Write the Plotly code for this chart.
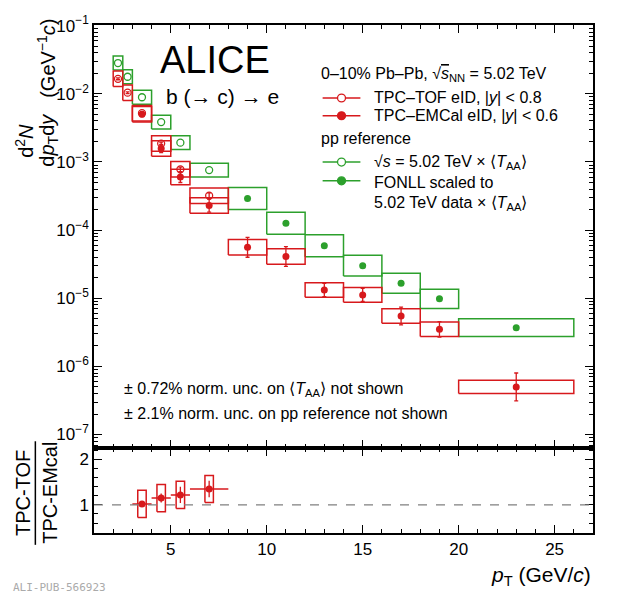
import numpy as np
import plotly.graph_objects as go
from plotly.subplots import make_subplots

RED = "#d7191c"
GREEN = "#2ca02c"

# pp reference, measured (open green)
pp_x_lo = [2.0, 2.5, 3.0, 4.0, 5.0, 6.0]
pp_x_hi = [2.5, 3.0, 4.0, 5.0, 6.0, 8.0]
pp_y = [0.0283, 0.0178, 0.0089, 0.00385, 0.00192, 0.00076]
pp_sys = [0.27, 0.27, 0.27, 0.26, 0.26, 0.26]

# FONLL scaled (filled green)
fonll_x_lo = [8, 10, 12, 14, 16, 18, 20]
fonll_x_hi = [10, 12, 14, 16, 18, 20, 26]
fonll_y = [2.9e-4, 1.26e-4, 5.9e-5, 3.0e-5, 1.66e-5, 9.8e-6, 3.7e-6]
fonll_sys = [0.45, 0.45, 0.45, 0.42, 0.4, 0.38, 0.35]

# TPC-TOF (open red)
tof_x_lo = [2.0, 2.5, 3.0, 4.0, 5.0, 6.0]
tof_x_hi = [2.5, 3.0, 4.0, 5.0, 6.0, 8.0]
tof_y = [0.0166, 0.0104, 0.0052, 0.00186, 7.8e-4, 3.2e-4]
tof_stat = [0.03, 0.03, 0.04, 0.05, 0.08, 0.1]
tof_sys = [0.3, 0.3, 0.3, 0.3, 0.3, 0.3]

# TPC-EMCal (filled red)
emc_x_lo = [3.0, 4.0, 5.0, 6.0, 8, 10, 12, 14, 16, 18, 20]
emc_x_hi = [4.0, 5.0, 6.0, 8.0, 10, 12, 14, 16, 18, 20, 26]
emc_y = [0.0050, 0.00158, 6.0e-4, 2.3e-4, 5.6e-5, 4.1e-5, 1.32e-5, 1.12e-5, 5.5e-6, 3.5e-6, 5.0e-7]
emc_stat = [0.08, 0.15, 0.2, 0.25, 0.4, 0.4, 0.25, 0.25, 0.35, 0.3, 0.6]
emc_sys = [0.3, 0.3, 0.3, 0.3, 0.3, 0.3, 0.28, 0.28, 0.28, 0.28, 0.25]

# ratio panel
ratio_x_lo = [3.0, 4.0, 5.0, 6.0]
ratio_x_hi = [4.0, 5.0, 6.0, 8.0]
ratio_y = [1.02, 1.15, 1.22, 1.35]
ratio_stat = [0.05, 0.1, 0.18, 0.18]
ratio_sys = [0.3, 0.3, 0.3, 0.3]

y_exp = [-1, -2, -3, -4, -5, -6, -7]


def boxes(xlo, xhi, y, rel, log=True, halfw=None):
    xs, ys = [], []
    for a, b, v, r in zip(xlo, xhi, y, rel):
        if halfw is not None:
            c = 0.5 * (a + b)
            a, b = c - halfw, c + halfw
        if log:
            lo, hi = v / (1 + r), v * (1 + r)
        else:
            lo, hi = v - r, v + r
        xs += [a, b, b, a, a, None]
        ys += [lo, lo, hi, hi, lo, None]
    return xs, ys


def mid(lo, hi):
    return [0.5 * (a + b) for a, b in zip(lo, hi)]


fig = make_subplots(rows=2, cols=1, shared_xaxes=True, row_heights=[0.833, 0.167],
                    vertical_spacing=0)

for xlo, xhi, y, sys, col in [(pp_x_lo, pp_x_hi, pp_y, pp_sys, GREEN),
                               (fonll_x_lo, fonll_x_hi, fonll_y, fonll_sys, GREEN),
                               (tof_x_lo, tof_x_hi, tof_y, tof_sys, RED),
                               (emc_x_lo, emc_x_hi, emc_y, emc_sys, RED)]:
    bx, by = boxes(xlo, xhi, y, sys)
    fig.add_trace(go.Scatter(x=bx, y=by, mode="lines", line=dict(color=col, width=1.5),
                             showlegend=False, hoverinfo="skip"), row=1, col=1)

fig.add_trace(go.Scatter(x=mid(pp_x_lo, pp_x_hi), y=pp_y, mode="markers",
                         marker=dict(symbol="circle-open", color=GREEN, size=7, line=dict(width=1.3)),
                         showlegend=False), row=1, col=1)
fig.add_trace(go.Scatter(x=mid(fonll_x_lo, fonll_x_hi), y=fonll_y, mode="markers",
                         marker=dict(symbol="circle", color=GREEN, size=7), showlegend=False), row=1, col=1)
fig.add_trace(go.Scatter(x=mid(tof_x_lo, tof_x_hi), y=tof_y, mode="markers",
                         error_y=dict(type="data", array=[v * s for v, s in zip(tof_y, tof_stat)],
                                      color=RED, thickness=1.3, width=2),
                         marker=dict(symbol="circle-open", color=RED, size=7, line=dict(width=1.3)),
                         showlegend=False), row=1, col=1)
fig.add_trace(go.Scatter(x=mid(emc_x_lo, emc_x_hi), y=emc_y, mode="markers",
                         error_y=dict(type="data", array=[v * s for v, s in zip(emc_y, emc_stat)],
                                      arrayminus=[v * s / (1 + s) for v, s in zip(emc_y, emc_stat)],
                                      color=RED, thickness=1.3, width=2),
                         marker=dict(symbol="circle", color=RED, size=7), showlegend=False), row=1, col=1)

# ratio
bx, by = boxes(ratio_x_lo, ratio_x_hi, ratio_y, ratio_sys, log=False, halfw=0.22)
fig.add_trace(go.Scatter(x=bx, y=by, mode="lines", line=dict(color=RED, width=1.5),
                         showlegend=False, hoverinfo="skip"), row=2, col=1)
rx = mid(ratio_x_lo, ratio_x_hi)
fig.add_trace(go.Scatter(x=rx, y=ratio_y, mode="markers",
                         error_x=dict(type="data", array=[(b - a) / 2 for a, b in zip(ratio_x_lo, ratio_x_hi)],
                                      color=RED, thickness=1.5, width=0),
                         error_y=dict(type="data", array=ratio_stat, color=RED, thickness=1.3, width=0),
                         marker=dict(symbol="circle", color=RED, size=7), showlegend=False), row=2, col=1)
fig.add_hline(y=1, line=dict(color="gray", dash="dash", width=1.2), row=2, col=1)

F = "Liberation Sans, Arial"
ax = dict(showline=True, linecolor="black", linewidth=1.5, mirror="ticks", ticks="inside",
          ticklen=8, tickcolor="black", showgrid=False, zeroline=False,
          tickfont=dict(family=F, size=17, color="black"))
fig.update_xaxes(**ax, range=[1, 27], tickvals=[5, 10, 15, 20, 25],
                 minor=dict(ticks="inside", ticklen=4, dtick=1, tickcolor="black"))
fig.update_xaxes(showticklabels=False, row=1, col=1)
fig.update_yaxes(**ax, type="log", range=[-7.2, -0.99], row=1, col=1,
                 ticklabeloverflow="allow",
                 tickvals=[10.0 ** e for e in y_exp],
                 ticktext=["10<sup>\u2212%d</sup>" % -e for e in y_exp],
                 minor=dict(ticks="inside", ticklen=4, tickcolor="black",
                            tickvals=[m * 10.0 ** e for e in range(-8, -1) for m in range(2, 10)]))
fig.update_yaxes(**ax, range=[0.38, 2.25], tickvals=[1, 2], row=2, col=1,
                 minor=dict(ticks="inside", ticklen=4, dtick=0.2, tickcolor="black"))

ann = []


def txt(x, y, s, size=16, anchor="left", color="black", family=F, angle=0):
    ann.append(dict(x=x, y=y, xref="paper", yref="paper", text=s, showarrow=False,
                    xanchor=anchor, yanchor="middle", textangle=angle,
                    font=dict(family=family, size=size, color=color)))


W, H = 620, 599
# target plot frame in the picture (pixels)
L0, R0, T0, B0 = 92, 594, 18, 533


def px(x):
    return (x - L0) / (R0 - L0)


def py(y):
    return 1 - (y - T0) / (B0 - T0)


txt(px(156), py(53), "ALICE", size=38)
txt(px(162), py(90), "b (\u2192 c) \u2192 e", size=21)
txt(px(318), py(68), "0\u201310% Pb\u2013Pb, \u221a<span style='text-decoration:overline'><i>s</i></span><sub>NN</sub> = 5.02 TeV", size=16)
txt(px(372), py(92), "TPC\u2013TOF eID, |<i>y</i>| < 0.8", size=16)
txt(px(372), py(110), "TPC\u2013EMCal eID, |<i>y</i>| < 0.6", size=16)
txt(px(318), py(133), "pp reference", size=16)
txt(px(372), py(157), "\u221a<i>s</i> = 5.02 TeV \u00d7 \u27e8<i>T</i><sub>AA</sub>\u27e9", size=16)
txt(px(372), py(178), "FONLL scaled to", size=16)
txt(px(372), py(199), "5.02 TeV data \u00d7 \u27e8<i>T</i><sub>AA</sub>\u27e9", size=16)
txt(px(120), py(388), "\u00b1 0.72% norm. unc. on \u27e8<i>T</i><sub>AA</sub>\u27e9 not shown", size=16)
txt(px(120), py(412), "\u00b1 2.1% norm. unc. on pp reference not shown", size=16)
txt(px(594), py(577), "<i>p</i><sub>T</sub> (GeV/<i>c</i>)", size=21, anchor="right")
txt(px(22), py(135), "d<sup>2</sup><i>N</i>", size=20, anchor="center", angle=-90)
txt(px(46), py(135), "d<i>p</i><sub>T</sub>d<i>y</i>", size=20, anchor="center", angle=-90)
txt(px(44), py(52), "(GeV<sup>\u22121</sup><i>c</i>)", size=20, anchor="center", angle=-90)
txt(px(20), py(492), "TPC-TOF", size=20, anchor="center", angle=-90)
txt(px(47), py(492), "TPC-EMcal", size=20, anchor="center", angle=-90)
txt(px(8), py(588), "ALI-PUB-566923", size=11, color="#aaaaaa", family="DejaVu Sans Mono")

shapes = [
    dict(type="line", xref="paper", yref="paper", x0=px(33), x1=px(33), y0=py(168), y1=py(102),
         line=dict(color="black", width=1.5)),
    dict(type="line", xref="paper", yref="paper", x0=px(33), x1=px(33), y0=py(545), y1=py(440),
         line=dict(color="black", width=1.5)),
]
for yy, col, filled in [(92, RED, False), (110, RED, True), (157, GREEN, False), (176, GREEN, True)]:
    shapes.append(dict(type="line", xref="paper", yref="paper", x0=px(322), x1=px(360),
                       y0=py(yy), y1=py(yy), line=dict(color=col, width=1.5)))
    shapes.append(dict(type="circle", xref="paper", yref="paper", x0=px(337), x1=px(345),
                       y0=py(yy + 4), y1=py(yy - 4), line=dict(color=col, width=1.3),
                       fillcolor=col if filled else "white"))

# margins compensated for the offset observed in the rendered page
fig.update_layout(width=W, height=H, margin=dict(l=86, r=35, t=6, b=74),
                  plot_bgcolor="white", paper_bgcolor="white",
                  annotations=ann, shapes=shapes, showlegend=False)
fig.write_html("out.html")
